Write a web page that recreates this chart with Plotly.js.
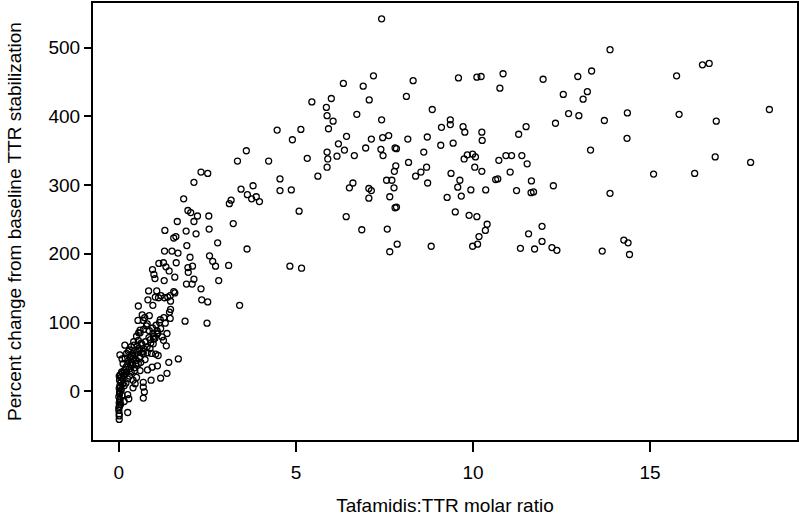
<!DOCTYPE html>
<html>
<head>
<meta charset="utf-8">
<script src="https://cdn.plot.ly/plotly-3.0.1.min.js"></script>
<style>html,body{margin:0;padding:0;background:#fff;}#chart{width:799px;height:516px;}</style>
</head>
<body>
<div id="chart"></div>
<script>
// Tafamidis:TTR molar ratio (x) and percent change from baseline TTR stabilization (y)
var ratioUpper = [5.45,6.00,5.86,5.88,6.05,5.92,4.47,5.14,4.90,6.20,3.60,3.35,4.23,5.32,5.88,5.90,6.16,5.88,5.62,2.32,2.51,2.12,4.55,4.55,4.87,3.45,3.79,3.63,3.88,3.75,1.83,3.17];
var stabUpper  = [421,426,413,401,393,382,380,381,366,360,350,335,335,339,348,338,342,326,313,319,317,304,309,292,293,294,299,286,283,280,280,278];

var ratioMid = [7.42,6.34,6.90,7.19,8.31,9.59,10.11,10.23,10.85,10.76,11.98,12.96,7.07,8.12,8.85,12.55,12.70,12.99,12.33,6.72,7.42,6.43,6.37,6.65,6.97,7.13,7.45,7.62,7.40,7.46,7.80,7.84,8.16,8.71,8.61,8.18,8.69,7.82,7.78,8.38,8.53,7.56,7.71,7.77,8.72,7.65,7.06,7.13,7.06,6.51,6.61,9.11,9.36,9.36,9.72,9.77,10.25,10.26,11.50,11.29,9.09,9.44,9.84,9.99,10.07,9.75,10.05,10.25,9.38,9.63,9.57,9.67,9.27,9.94,10.36,10.64,10.70,10.73,10.93,11.09,11.38,11.53,11.05,11.65,11.23,11.64,11.71,12.27];
var stabMid  = [542,448,444,459,452,456,457,458,462,441,454,458,424,429,410,432,404,401,390,403,395,371,351,343,354,367,369,372,352,343,354,353,367,370,348,333,326,328,320,313,319,307,307,296,303,283,295,292,281,296,303,384,395,388,385,377,377,365,385,374,358,361,344,345,341,338,326,320,317,307,297,284,282,293,293,308,309,336,343,343,343,331,319,306,292,289,290,299];

var ratioHigh = [13.87,13.35,13.23,13.11,13.71,14.36,15.75,16.48,16.67,15.82,16.87,18.37,14.35,13.32,16.84,17.84,15.10,16.26,13.87];
var stabHigh  = [497,466,436,425,394,405,459,475,477,403,393,410,368,351,341,333,316,317,288];

var ratioLowBand = [6.42,6.86,7.58,7.80,7.84,7.65,7.86,8.82,9.50,9.89,10.11,10.40,10.35,10.17,9.99,10.13,11.57,11.95,11.95,11.34,11.74,12.23,12.37,14.26,14.38,13.65,14.42];
var stabLowBand  = [254,235,236,267,268,203,214,211,261,256,254,243,234,225,211,214,229,240,218,208,207,209,205,220,216,204,199];

var ratioRise = [3.97,3.12,5.09,4.83,5.16,1.95,2.03,2.22,2.12,2.54,2.55,3.23,1.65,1.30,1.90,2.18,1.55,1.61,2.79,1.92,1.29,1.50,1.67,3.62,2.01,2.56,2.65,2.73,3.10,1.13,1.26,1.62,2.08,1.95,1.96,1.33,1.42,0.95,0.99,1.02,1.58,1.28,2.12,2.07,1.91,2.82,2.32,0.84,1.07,1.55,0.82,1.03,1.12,1.19,1.29,1.38,1.45,1.58,1.46,2.34,2.51,3.41,0.55,0.96,1.46,1.43,0.66,0.73,0.86,0.54,0.69,0.80,1.17,1.27,1.45,1.31,1.87,2.49,0.56,0.60,0.86,0.96,1.08,1.18,1.36,1.22,0.17,0.43,0.55,0.63,0.89,1.02,0.97,1.26,1.34];
var stabRise  = [276,273,262,182,179,263,260,255,247,255,236,244,247,234,233,229,223,225,216,212,204,204,201,207,195,197,189,182,183,186,187,187,182,180,173,181,175,177,170,164,166,161,163,156,156,161,149,146,146,145,133,137,136,139,136,137,139,143,131,133,130,125,124,125,119,115,111,107,110,103,103,98,104,107,106,99,102,99,85,89,88,84,83,91,84,79,67,67,74,70,75,77,69,74,66];

var ratioLow = [0.03,0.09,0.31,0.39,0.50,0.59,0.69,0.80,0.92,1.04,1.11,1.68,1.41,1.09,0.94,0.81,1.36,1.18,0.91,0.69,0.69,0.72,0.69,0.46,0.40,0.28,0.25,0.01,0.01];
var stabLow  = [53,47,50,55,57,60,55,56,55,54,52,47,42,37,35,31,26,19,16,13,6,-1,-10,11,16,-11,-31,-33,-41];

var ratioDense = [0.00,0.02,0.01,0.03,0.00,0.02,0.04,0.01,0.03,0.05,0.02,0.06,0.04,0.08,0.00,0.05,0.07,0.09,0.10,0.12,0.15,0.20,0.18,0.25,0.30,0.28,0.35,0.40,0.38,0.45,0.50,0.55,0.60,0.65,0.70,0.75,0.80,0.85,0.90,0.95,1.00,1.05,1.10,1.15,0.30,0.35,0.45,0.55,0.60,0.20,0.25,0.15,0.50,0.40,0.12,0.18,0.22,0.30,0.35,0.42,0.50,0.60,0.70,0.78,0.25,0.15,
                  0.01,0.03,0.02,0.04,0.06,0.01,0.10,0.14,0.22,0.33,0.48,0.58,0.68,0.88,0.98,1.08,0.62,0.74,0.52,0.36,0.27,0.44];
var stabDense  = [-28,-22,-17,-12,-8,-4,0,4,8,12,16,20,24,28,-24,-19,2,-6,10,18,30,35,25,40,33,45,42,48,38,52,45,62,50,68,62,72,65,78,70,92,80,96,85,100,22,28,30,40,30,12,18,8,20,5,40,48,55,60,65,72,80,85,90,95,-5,-15,
                  -36,-14,-2,6,14,22,26,23,28,38,40,48,58,62,76,88,42,46,66,52,58,34];

var xTicks = [0, 5, 10, 15];
var yTicks = [0, 100, 200, 300, 400, 500];

var xs = [].concat(ratioUpper, ratioMid, ratioHigh, ratioLowBand, ratioRise, ratioLow, ratioDense);
var ys = [].concat(stabUpper, stabMid, stabHigh, stabLowBand, stabRise, stabLow, stabDense);

var trace = {
  x: xs, y: ys, type: 'scatter', mode: 'markers',
  marker: {symbol: 'circle-open', size: 6, color: '#000', line: {width: 1.3, color: '#000'}},
  hoverinfo: 'skip', showlegend: false
};

var font = {family: 'Liberation Sans, Arial, sans-serif', size: 19, color: '#000'};
var layout = {
  width: 799, height: 516,
  margin: {l: 93, r: 2, t: 3, b: 76},
  paper_bgcolor: '#fff', plot_bgcolor: '#fff',
  font: font,
  xaxis: {
    range: [-0.73, 19.15], tickvals: xTicks, ticktext: xTicks.map(String),
    showgrid: false, zeroline: false, showline: true, mirror: true,
    linecolor: '#000', linewidth: 2, ticks: 'outside', ticklen: 10, tickwidth: 2, tickcolor: '#000',
    tickfont: font, ticklabelstandoff: 4,
    title: {text: 'Tafamidis:TTR molar ratio', font: font, standoff: 20}
  },
  yaxis: {
    range: [-71, 565], tickvals: yTicks, ticktext: yTicks.map(String),
    showgrid: false, zeroline: false, showline: true, mirror: true,
    linecolor: '#000', linewidth: 2, ticks: 'outside', ticklen: 7, tickwidth: 2, tickcolor: '#000',
    tickfont: font,
    title: {text: 'Percent change from baseline TTR stabilization', font: font, standoff: 22}
  }
};

Plotly.newPlot('chart', [trace], layout, {displayModeBar: false, staticPlot: true});
</script>
</body>
</html>
